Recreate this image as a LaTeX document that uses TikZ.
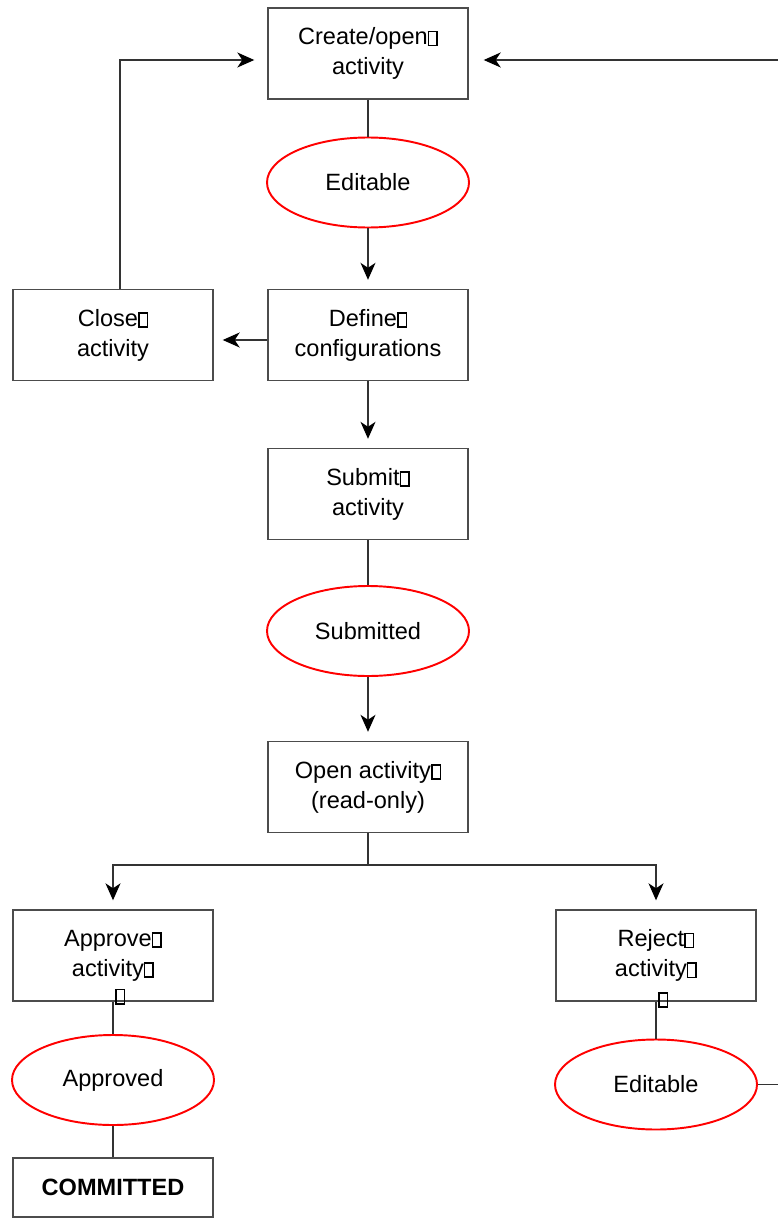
\documentclass[tikz,border=0pt]{standalone}
\usepackage{fontspec}
\setmainfont{Liberation Sans}
\usetikzlibrary{shapes.geometric,arrows.meta}

% the empty box that stands for a missing glyph
\newcommand{\nogl}{{\fboxsep=0pt\fboxrule=0.9pt\fbox{\rule{0pt}{2.5mm}\hspace{1.4mm}}}}

\begin{document}
\begin{tikzpicture}[
    x=0.2mm, y=-0.2mm,
    act/.style={draw=black!70, line width=0.8pt, minimum width=40mm, minimum height=18.2mm,
        align=center, inner sep=0pt, font=\fontsize{13.4}{17}\selectfont},
    state/.style={ellipse, draw=red, line width=1.1pt, minimum width=40.4mm, minimum height=18mm,
        inner sep=0pt, font=\fontsize{13.4}{17}\selectfont},
    link/.style={draw=black!80, line width=0.8pt},
    arr/.style={link, -{Stealth[length=3.4mm,width=3mm,inset=1mm,black]}, shorten >=1.8mm},
]
    \useasboundingbox (0,0) rectangle (778,1230);
    \clip (0,0) rectangle (778,1230);
    \pgfmathsetmacro\cx{368} % main column
    \pgfmathsetmacro\lx{113} % left column
    \pgfmathsetmacro\rx{656} % right column
    % main column
    \node[act] (create) at (\cx,53.5) {Create/open\nogl\\activity};
    \node[state] (edit) at (\cx,182.5) {Editable};
    \node[act] (define) at (\cx,335) {Define\nogl\\configurations};
    \node[act] (close) at (\lx,335) {Close\nogl\\activity};
    \node[act] (submit) at (\cx,494) {Submit\nogl\\activity};
    \node[state] (submitted) at (\cx,631) {Submitted};
    \node[act] (open) at (\cx,787) {Open activity\nogl\\(read-only)};
    % approve branch
    \node[act] (approve) at (\lx,955.5) {Approve\nogl\\activity\nogl};
    \node[inner sep=0pt] (approvegl) at ([xshift=1.4mm,yshift=1mm]approve.south) {\nogl};
    \node[state] (approved) at (\lx,1080) {Approved};
    \node[act, minimum height=11.8mm] (committed) at (\lx,1187.5) {\textbf{COMMITTED}};
    % reject branch
    \node[act] (reject) at (\rx,955.5) {Reject\nogl\\activity\nogl};
    \node[inner sep=0pt] (rejectgl) at ([xshift=1.4mm,yshift=0.3mm]reject.south) {\nogl};
    \node[state] (editb) at (\rx,1084.5) {Editable};
    \coordinate (back) at (800,1084.5);
    % connectors
    \foreach \a/\b in {create/edit, submit/submitted, approve/approved, approved/committed, reject/editb}
        \draw[link] (\a) -- (\b);
    \foreach \a/\b in {edit/define, define/submit, submitted/open}
        \draw[arr] (\a) -- (\b);
    \draw[arr] ([yshift=-1mm]define.west) -- ([yshift=-1mm]close.east);
    \draw[arr, shorten >=2.6mm] ([xshift=1.4mm]close.north) |- ([yshift=-1.3mm]create.west);
    \draw[link] (open) -- (\cx,865) coordinate (fork);
    \draw[arr] (fork) -| (approve);
    \draw[arr] (fork) -| (reject);
    \draw[arr, shorten >=3mm] (editb.east) -- (back) |- ([yshift=-1.3mm]create.east);
\end{tikzpicture}
\end{document}
